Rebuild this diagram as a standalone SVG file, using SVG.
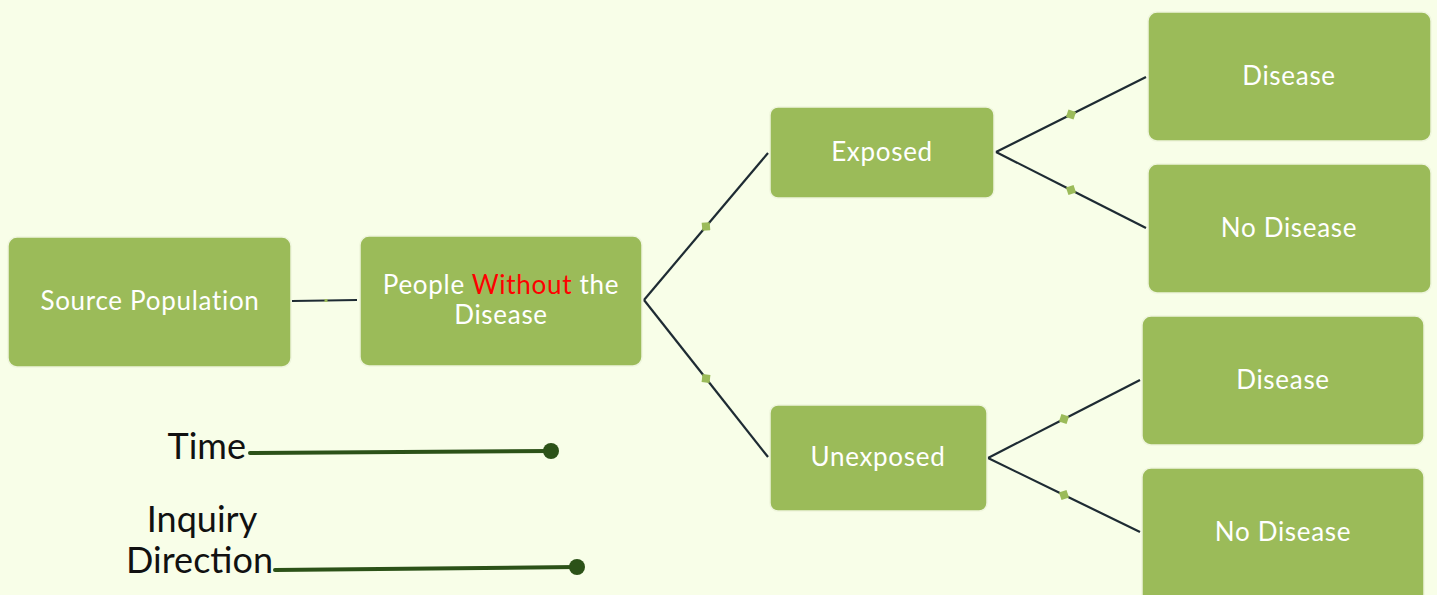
<svg xmlns="http://www.w3.org/2000/svg" width="1437" height="595" viewBox="0 0 1437 595">
<defs>
<style>
.node{fill:#9BBB59;stroke:#EEF5DC;stroke-width:1.5}
.lbl{font-family:Lato,"Open Sans","Liberation Sans",sans-serif;font-size:26px;letter-spacing:0.7px;fill:#FFFFFF;text-anchor:middle;dominant-baseline:central}
.conn{fill:none;stroke:#1E2B33;stroke-width:2.2;marker-mid:url(#dia)}
.leg{font-family:Lato,"Open Sans","Liberation Sans",sans-serif;font-size:36px;fill:#111111}
.legline{stroke:#2C5218;stroke-width:4;fill:none;stroke-linecap:round}
</style>
<marker id="dia" viewBox="-6 -6 12 12" markerWidth="12" markerHeight="12" markerUnits="userSpaceOnUse" orient="auto">
<rect x="-4" y="-4" width="8" height="8" fill="#9BBB59" transform="rotate(45)"/>
</marker>
<marker id="dot" viewBox="-3 -3 6 6" markerWidth="6" markerHeight="6" markerUnits="userSpaceOnUse" orient="auto">
<rect x="-1.5" y="-1.5" width="3" height="3" fill="#9BBB59"/>
</marker>
</defs>
<rect width="1437" height="595" fill="#F8FEE8"/>
<g id="connectors">
<polyline class="conn" style="marker-mid:url(#dot)" points="292,301 326,300.5 357,300"/>
<polyline class="conn" points="644,300 706,226.5 768,153"/>
<polyline class="conn" points="644,300 706,378.5 768,457"/>
<polyline class="conn" points="996,152 1071,114.5 1146,77"/>
<polyline class="conn" points="996,152 1071,190 1146,228"/>
<polyline class="conn" points="988,458 1064,419 1140,380"/>
<polyline class="conn" points="988,458 1064,495 1140,532"/>
</g>
<g id="source"><rect class="node" x="8" y="237" width="283" height="130" rx="9"/><text class="lbl" x="150" y="300">Source Population</text></g>
<g id="without"><rect class="node" x="360" y="236" width="282" height="130" rx="9"/><text class="lbl" x="501" y="284" font-size="25">People <tspan fill="#FF0000">Without</tspan> the</text><text class="lbl" x="501" y="314" font-size="25">Disease</text></g>
<g id="exposed"><rect class="node" x="770" y="107" width="224" height="91" rx="8"/><text class="lbl" x="882" y="151">Exposed</text></g>
<g id="unexposed"><rect class="node" x="770" y="405" width="217" height="106" rx="8"/><text class="lbl" x="878" y="456">Unexposed</text></g>
<g id="disease1"><rect class="node" x="1148" y="12" width="283" height="129" rx="9"/><text class="lbl" x="1289" y="75">Disease</text></g>
<g id="nodisease1"><rect class="node" x="1148" y="164" width="283" height="129" rx="9"/><text class="lbl" x="1289" y="227">No Disease</text></g>
<g id="disease2"><rect class="node" x="1142" y="316" width="282" height="129" rx="9"/><text class="lbl" x="1283" y="379">Disease</text></g>
<g id="nodisease2"><rect class="node" x="1142" y="468" width="282" height="135" rx="9"/><text class="lbl" x="1283" y="531">No Disease</text></g>
<g id="legend-time">
<text class="leg" x="246" y="459" text-anchor="end">Time</text>
<line class="legline" x1="250" y1="453" x2="551" y2="451"/>
<circle cx="551" cy="451" r="8" fill="#2C5218"/>
</g>
<g id="legend-inquiry">
<text class="leg" x="202" y="532" text-anchor="middle">Inquiry</text>
<text class="leg" x="273" y="573" text-anchor="end">Direction</text>
<line class="legline" x1="275" y1="570" x2="577" y2="567"/>
<circle cx="577" cy="567" r="8" fill="#2C5218"/>
</g>
</svg>
